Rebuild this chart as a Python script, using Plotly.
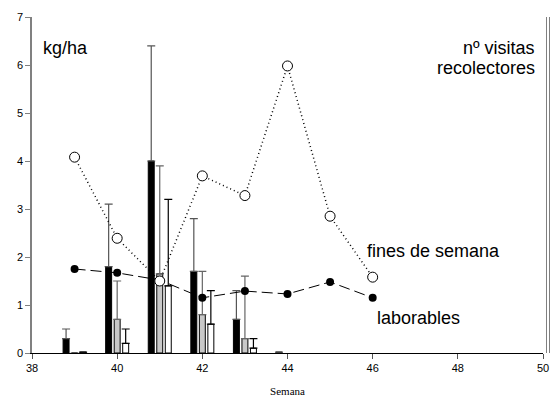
import plotly.graph_objects as go

# ---- data ----
bar_weeks = [39, 40, 41, 42, 43, 44]
black_vals = [0.3, 1.8, 4.0, 1.7, 0.7, 0.02]
black_top = [0.5, 3.1, 6.4, 2.8, 1.3, None]
gray_vals = [0.0, 0.7, 1.65, 0.8, 0.3, None]
gray_top = [None, 1.5, 3.9, 1.7, 1.6, None]
white_vals = [0.02, 0.2, 1.4, 0.6, 0.1, None]
white_top = [None, 0.5, 3.2, 1.3, 0.3, None]

line_weeks = [39, 40, 41, 42, 43, 44, 45, 46]
fines_semana = [4.08, 2.39, 1.5, 3.69, 3.28, 5.98, 2.85, 1.58]
laborables = [1.75, 1.67, 1.52, 1.15, 1.29, 1.23, 1.48, 1.15]

x_ticks = [38, 40, 42, 44, 46, 48, 50]
y_ticks = [0, 1, 2, 3, 4, 5, 6, 7]

FONT = "Arial, Liberation Sans, sans-serif"
PW = 517  # plot-area width incl. right axis gap

def errs(vals, tops):
    return [(t - v) if (t is not None and v is not None) else 0 for v, t in zip(vals, tops)]

def shift(weeks, d):
    return [w + d for w in weeks]

fig = go.Figure()

# connecting lines (behind bars)
fig.add_trace(go.Scatter(
    x=line_weeks, y=laborables, mode="lines",
    line=dict(color="black", width=1, dash="11px,5px"),
    showlegend=False, hoverinfo="skip"))
fig.add_trace(go.Scatter(
    x=line_weeks, y=fines_semana, mode="lines",
    line=dict(color="black", width=1.5, dash="1px,3px"),
    showlegend=False, hoverinfo="skip"))

fig.add_trace(go.Bar(
    x=shift(bar_weeks, -0.2), y=black_vals, width=0.14,
    marker=dict(color="black", line=dict(color="black", width=1)),
    error_y=dict(type="data", symmetric=False, array=errs(black_vals, black_top),
                 arrayminus=[0] * len(bar_weeks), color="#555555", thickness=1.2, width=4),
    showlegend=False))
fig.add_trace(go.Bar(
    x=bar_weeks, y=gray_vals, width=0.14,
    marker=dict(color="#c8c8c8", line=dict(color="black", width=1)),
    error_y=dict(type="data", symmetric=False, array=errs(gray_vals, gray_top),
                 arrayminus=[0] * len(bar_weeks), color="#666666", thickness=1.2, width=4),
    showlegend=False))
fig.add_trace(go.Bar(
    x=shift(bar_weeks, 0.2), y=white_vals, width=0.14,
    marker=dict(color="white", line=dict(color="black", width=1)),
    error_y=dict(type="data", symmetric=False, array=errs(white_vals, white_top),
                 arrayminus=[0] * len(bar_weeks), color="black", thickness=1.2, width=4),
    showlegend=False))

# markers on top
fig.add_trace(go.Scatter(
    x=line_weeks, y=laborables, mode="markers",
    marker=dict(symbol="circle", size=8, color="black"),
    showlegend=False))
fig.add_trace(go.Scatter(
    x=line_weeks, y=fines_semana, mode="markers",
    marker=dict(symbol="circle", size=10, color="white", line=dict(color="black", width=1)),
    showlegend=False))

# invisible trace for right axis
fig.add_trace(go.Scatter(x=[38], y=[0], yaxis="y2", mode="markers",
                         marker=dict(opacity=0), showlegend=False, hoverinfo="skip"))

LABEL_FONT = dict(size=18)

fig.update_layout(
    width=550, height=397,
    margin=dict(l=24, r=9, t=9, b=52),
    paper_bgcolor="white", plot_bgcolor="white",
    barmode="overlay",
    font=dict(family=FONT, size=11, color="black"),
    xaxis=dict(range=[38, 50], domain=[0, 511 / PW], tickvals=x_ticks, automargin=False,
               showgrid=False, zeroline=False, showline=True, linecolor="black", linewidth=1,
               ticks="outside", ticklen=5, tickcolor="#555555",
               title=dict(text="Semana", font=dict(family="Times New Roman, Liberation Serif, serif", size=11),
                          standoff=14)),
    yaxis=dict(range=[0, 7], tickvals=y_ticks, showgrid=False, zeroline=False, automargin=False,
               showline=True, linecolor="#808080", linewidth=1.5,
               ticks="outside", ticklen=5, tickcolor="#808080"),
    yaxis2=dict(range=[0, 7], overlaying="y", side="right", anchor="free", position=1, automargin=False,
                tickvals=[1, 2, 3, 4, 5, 6], showticklabels=False, showgrid=False, zeroline=False,
                showline=True, linecolor="#808080", linewidth=1,
                ticks="outside", ticklen=5, tickcolor="#808080"),
    shapes=[dict(type="line", xref="paper", yref="y", x0=1 - 2.5 / PW, x1=1 - 2.5 / PW, y0=0, y1=7,
                 line=dict(color="#808080", width=1))],
    annotations=[
        dict(text="kg/ha", x=9 / PW, y=6.35, xref="paper", yref="y",
             xanchor="left", yanchor="middle", showarrow=False, font=LABEL_FONT),
        dict(text="nº visitas", x=(537 - 32) / PW, y=6.35, xref="paper", yref="y",
             xanchor="right", yanchor="middle", showarrow=False, font=LABEL_FONT),
        dict(text="recolectores", x=(537 - 32) / PW, y=5.93, xref="paper", yref="y",
             xanchor="right", yanchor="middle", showarrow=False, font=LABEL_FONT),
        dict(text="fines de semana", x=45.82, y=2.12, xref="x", yref="y",
             xanchor="left", yanchor="middle", showarrow=False, font=LABEL_FONT),
        dict(text="laborables", x=46.05, y=0.73, xref="x", yref="y",
             xanchor="left", yanchor="middle", showarrow=False, font=LABEL_FONT),
    ],
)

fig.write_html("out.html")
